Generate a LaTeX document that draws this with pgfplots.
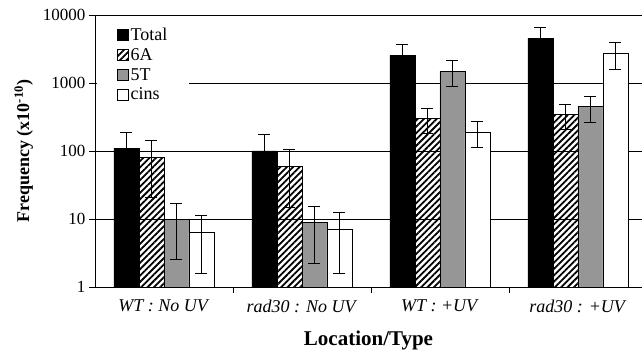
\documentclass[border=0pt]{standalone}
\usepackage{pgfplots}
\pgfplotsset{compat=1.18}
\usetikzlibrary{patterns.meta}
\usepackage{fontspec}
\setmainfont{Liberation Serif}
\definecolor{midgray}{RGB}{150,150,150}
\begin{document}
\begin{tikzpicture}
\useasboundingbox (-95pt,-65pt) rectangle (547pt,287pt);
\begin{axis}[
  at={(0,0)}, anchor=south west,
  scale only axis, width=547pt, height=272pt,
  ymode=log, log origin=infty,
  ymin=1, ymax=10000,
  xmin=0.5, xmax=4.464,
  ybar=0pt, bar width=25pt,
  axis x line=box, axis y line=left, axis line style={-, line width=0.8pt},
  xtick pos=bottom, ytick pos=left,
  tick align=outside, major tick length=6pt,
  xtick={1.5,2.5,3.5},
  xticklabels={},
  extra x ticks={1,2,3,4},
  extra x tick labels={\textit{WT : No UV}, \textit{rad30 : No UV}, \textit{WT : +UV}, \textit{rad30 : +UV}},
  extra x tick style={major tick length=0pt, grid=none},
  ytick={1,10,100,1000,10000},
  yticklabels={1,10,100,1000,10000},
  minor ytick={}, minor tick length=0pt,
  tick style={black, line width=0.8pt},
  ymajorgrids, xmajorgrids=false, major grid style={black, line width=0.8pt},
  xticklabel style={font=\fontsize{18}{20}\selectfont, yshift=-9pt},
  yticklabel style={font=\fontsize{17}{20}\selectfont},
  /pgf/number format/assume math mode=true,
  xlabel={\textbf{Location/Type}},
  xlabel style={font=\fontsize{21}{24}\selectfont, yshift=-6pt},
  ylabel={\textbf{Frequency (x10\textsuperscript{-10})}},
  ylabel style={font=\fontsize{18}{20}\selectfont, at={(axis description cs:-0.113,0.5)}, anchor=south, inner sep=0pt},
  legend style={at={(axis description cs:0.0037,0.97)}, anchor=north west, draw=none, fill=white,
    inner xsep=20pt, inner ysep=3pt, row sep=3.5pt,
    font=\fontsize{18}{20}\selectfont,
    nodes={inner sep=1.5pt}},
  legend cell align=left,
  legend image code/.code={\draw[#1, line width=0.8pt] (0pt,-5.5pt) rectangle (11pt,5.5pt);},
  error bars/y dir=both, error bars/y explicit,
  error bars/error bar style={black, line width=1pt},
  error bars/error mark options={rotate=90, mark size=6pt, line width=1pt, black},
]
\addplot[fill=black, draw=black, line width=0.8pt] coordinates {
  (1,110) +- (0,75)
  (2,100) +- (0,72)
  (3,2580) +- (0,1050)
  (4,4540) +- (0,1900)
};
\addlegendentry{Total}
\addplot[pattern={Lines[angle=45,distance=4.5pt,line width=1.8pt]}, draw=black, line width=0.8pt] coordinates {
  (1,81) +- (0,60)
  (2,60) +- (0,45)
  (3,302) +- (0,120)
  (4,346) +- (0,140)
};
\addlegendentry{6A}
\addplot[fill=midgray, draw=black, line width=0.8pt] coordinates {
  (1,9.7) +- (0,7.2)
  (2,8.8) +- (0,6.6)
  (3,1500) +- (0,620)
  (4,450) +- (0,185)
};
\addlegendentry{5T}
\addplot[fill=white, draw=black, line width=0.8pt] coordinates {
  (1,6.4) +- (0,4.8)
  (2,7.0) +- (0,5.4)
  (3,190) +- (0,77)
  (4,2740) +- (0,1150)
};
\addlegendentry{cins}
\end{axis}
\end{tikzpicture}
\end{document}
